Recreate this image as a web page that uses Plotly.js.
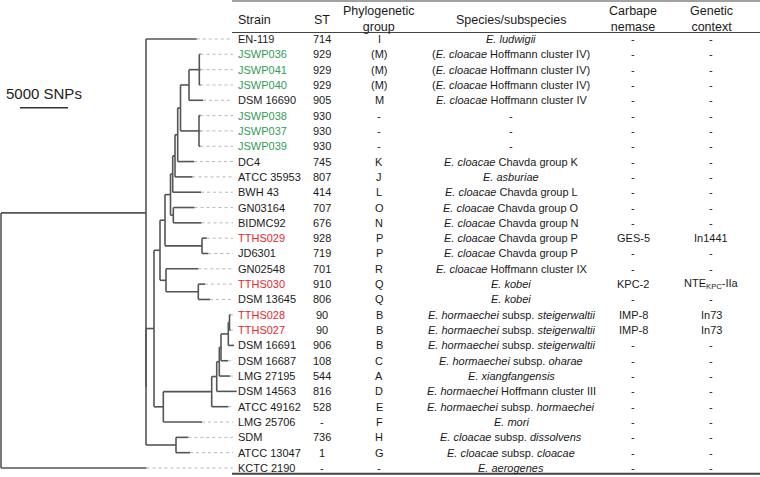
<!DOCTYPE html>
<html><head><meta charset="utf-8">
<script src="https://cdn.plot.ly/plotly-3.0.1.min.js"></script>
<style>html,body{margin:0;padding:0;background:#fff}</style>
</head><body><div id="chart" style="width:760px;height:477px"></div>
<script>
// ---------- table data (rows top to bottom) ----------
const strains = ['EN-119','JSWP036','JSWP041','JSWP040','DSM 16690','JSWP038','JSWP037','JSWP039','DC4','ATCC 35953','BWH 43','GN03164','BIDMC92','TTHS029','JD6301','GN02548','TTHS030','DSM 13645','TTHS028','TTHS027','DSM 16691','DSM 16687','LMG 27195','DSM 14563','ATCC 49162','LMG 25706','SDM','ATCC 13047','KCTC 2190'];
const sequenceTypes = ['714','929','929','929','905','930','930','930','745','807','414','707','676','928','719','701','910','806','90','90','906','108','544','816','528','-','736','1','-'];
const phyloGroups = ['I','(M)','(M)','(M)','M','-','-','-','K','J','L','O','N','P','P','R','Q','Q','B','B','B','C','A','D','E','F','H','G','-'];
const speciesNames = [
 '<i>E. ludwigii</i>',
 '(<i>E. cloacae</i> Hoffmann cluster IV)',
 '(<i>E. cloacae</i> Hoffmann cluster IV)',
 '(<i>E. cloacae</i> Hoffmann cluster IV)',
 '<i>E. cloacae</i> Hoffmann cluster IV',
 '-','-','-',
 '<i>E. cloacae</i> Chavda group K',
 '<i>E. asburiae</i>',
 '<i>E. cloacae</i> Chavda group L',
 '<i>E. cloacae</i> Chavda group O',
 '<i>E. cloacae</i> Chavda group N',
 '<i>E. cloacae</i> Chavda group P',
 '<i>E. cloacae</i> Chavda group P',
 '<i>E. cloacae</i> Hoffmann cluster IX',
 '<i>E. kobei</i>',
 '<i>E. kobei</i>',
 '<i>E. hormaechei</i> subsp. <i>steigerwaltii</i>',
 '<i>E. hormaechei</i> subsp. <i>steigerwaltii</i>',
 '<i>E. hormaechei</i> subsp. <i>steigerwaltii</i>',
 '<i>E. hormaechei</i> subsp. <i>oharae</i>',
 '<i>E. xiangfangensis</i>',
 '<i>E. hormaechei</i> Hoffmann cluster III',
 '<i>E. hormaechei</i> subsp. <i>hormaechei</i>',
 '<i>E. mori</i>',
 '<i>E. cloacae</i> subsp. <i>dissolvens</i>',
 '<i>E. cloacae</i> subsp. <i>cloacae</i>',
 '<i>E. aerogenes</i>'];
const carbapenemases = ['-','-','-','-','-','-','-','-','-','-','-','-','-','GES-5','-','-','KPC-2','-','IMP-8','IMP-8','-','-','-','-','-','-','-','-','-'];
const geneticContexts = ['-','-','-','-','-','-','-','-','-','-','-','-','-','In1441','-','-','NTE<sub>KPC</sub>-IIa','-','In73','In73','-','-','-','-','-','-','-','-','-'];
const headers = ['Strain','ST','Phylogenetic<br>group','Species/subspecies','Carbape<br>nemase','Genetic<br>context'];

// ---------- tree data: node, parent, cumulative distance from root (SNPs) ----------
const nodeIds = ['R','A','EN-119','A2','N14','N12','N10','N8','N7','N6','N5','N3','N2','N1','JSWP036','JSWP041','JSWP040','DSM 16690','N4','JSWP038','JSWP037','JSWP039','DC4','ATCC 35953','BWH 43','N9','GN03164','BIDMC92','N11','TTHS029','JD6301','N13','GN02548','N15','TTHS030','DSM 13645','N16','N17','N18','N19','N20','N21','N22','TTHS028','TTHS027','DSM 16691','DSM 16687','LMG 27195','DSM 14563','ATCC 49162','LMG 25706','NS','SDM','ATCC 13047','KCTC 2190'];
const nodeParents = [null,'R','A','A','A2','N14','N12','N10','N8','N7','N6','N5','N3','N2','N1','N1','N1','N2','N3','N4','N4','N4','N5','N6','N7','N8','N9','N9','N10','N11','N11','N12','N13','N13','N15','N15','N14','N16','N17','N18','N19','N20','N21','N22','N22','N21','N20','N19','N18','N17','N16','A2','NS','NS','R'];
const nodeDepths = [0,15104,20386,15104,15938,16563,17084,17657,17886,18126,18407,18698,19584,20657,20782,20782,20782,21042,20626,20782,20782,20782,20105,19948,20834,17948,20157,20886,20938,21428,21594,17188,20553,20553,21250,21771,16907,21949,22470,22740,22917,23678,23803,23907,23907,24272,23646,23855,24553,23678,20938,18230,19511,19688,15156];

const scaleBarSNPs = 5000;
const scaleBarLabel = '5000 SNPs';

// ---------- layout constants ----------
const W = 760, H = 477;
const row0Px = 39, rowStep = 15.321;
const pxToRow = px => (px - row0Px) / rowStep;
const snpPerPx = 104.17;
const xRange = [-1 * snpPerPx, (W - 1) * snpPerPx];
const pxToSnp = px => xRange[0] + px / W * (xRange[1] - xRange[0]);
const tableLeftPx = 233;
const FONT = 'Arial, "Liberation Sans", sans-serif';
const GREEN = '#2f9e55', RED = '#e8262d', TEXT = '#1a1a1a';

// ---------- compute tree geometry ----------
const rowOf = {}; strains.forEach((s, i) => rowOf[s] = i);
const children = {}, depth = {};
nodeIds.forEach((id, i) => {
  depth[id] = nodeDepths[i];
  const p = nodeParents[i];
  if (p !== null) (children[p] = children[p] || []).push(id);
});
const yPos = {};
function calcY(id) {
  if (!children[id]) return (yPos[id] = rowOf[id]);
  const ys = children[id].map(calcY);
  return (yPos[id] = (Math.min(...ys) + Math.max(...ys)) / 2);
}
calcY('R');

const sx = [], sy = [], dx = [], dy = [];
nodeIds.forEach((id, i) => {
  const p = nodeParents[i];
  if (p !== null) { sx.push(depth[p], depth[id], null); sy.push(yPos[id], yPos[id], null); }
  if (children[id]) {
    const ys = children[id].map(c => yPos[c]);
    sx.push(depth[id], depth[id], null); sy.push(Math.min(...ys), Math.max(...ys), null);
  } else {
    const edge = pxToSnp(tableLeftPx);
    if (depth[id] < edge) { dx.push(depth[id], edge, null); dy.push(yPos[id], yPos[id], null); }
  }
});

const scaleX0 = pxToSnp(20);
const traces = [
  {x: dx, y: dy, mode: 'lines', line: {color: '#b8b8b8', width: 1, dash: 'dot'}, hoverinfo: 'skip', showlegend: false},
  {x: sx, y: sy, mode: 'lines', line: {color: '#555555', width: 1.6}, hoverinfo: 'skip', showlegend: false},
  {x: [scaleX0, scaleX0 + scaleBarSNPs], y: [pxToRow(107.7), pxToRow(107.7)], mode: 'lines', line: {color: '#333', width: 1.6}, hoverinfo: 'skip', showlegend: false}
];

// ---------- table text ----------
const annotations = [];
const colCenters = [null, 321.5, 379, 511, 633, 711];
const colData = [strains, sequenceTypes, phyloGroups, speciesNames, carbapenemases, geneticContexts];
colData.forEach((col, c) => {
  col.forEach((txt, r) => {
    let color = TEXT;
    if (c === 0) color = txt.startsWith('JSWP') ? GREEN : (txt.startsWith('TTHS') ? RED : TEXT);
    annotations.push({
      xref: 'paper', yref: 'y', x: (c === 0 ? 236 : colCenters[c]) / W, y: r,
      xanchor: c === 0 ? 'left' : 'center', yanchor: 'middle', showarrow: false,
      text: txt, font: {family: FONT, size: 11, color: color}
    });
  });
});
headers.forEach((h, c) => {
  annotations.push({
    xref: 'paper', yref: 'y', x: (c === 0 ? 236 : colCenters[c]) / W, y: pxToRow(h.includes('<br>') ? 18.5 : 19.5),
    xanchor: c === 0 ? 'left' : 'center', yanchor: 'middle', showarrow: false,
    text: h, font: {family: FONT, size: 12.5, color: TEXT}
  });
});
annotations.push({
  xref: 'x', yref: 'y', x: scaleX0 + scaleBarSNPs / 2, y: pxToRow(93), showarrow: false,
  xanchor: 'center', yanchor: 'middle', text: scaleBarLabel, font: {family: FONT, size: 15, color: '#222'}
});

const hline = (px, w) => ({type: 'line', xref: 'paper', yref: 'paper', x0: 232 / W, x1: 1, y0: 1 - px / H, y1: 1 - px / H, line: {color: '#444', width: w}});
const layout = {
  width: W, height: H,
  margin: {l: 0, r: 0, t: 0, b: 0},
  paper_bgcolor: '#fff', plot_bgcolor: '#fff',
  showlegend: false,
  xaxis: {range: xRange, visible: false, fixedrange: true},
  yaxis: {range: [pxToRow(H), pxToRow(0)], visible: false, fixedrange: true},
  annotations: annotations,
  shapes: [hline(1, 1.2), hline(32.5, 1.2), hline(473.8, 2)]
};
Plotly.newPlot('chart', traces, layout, {displayModeBar: false, staticPlot: true});
</script></body></html>
